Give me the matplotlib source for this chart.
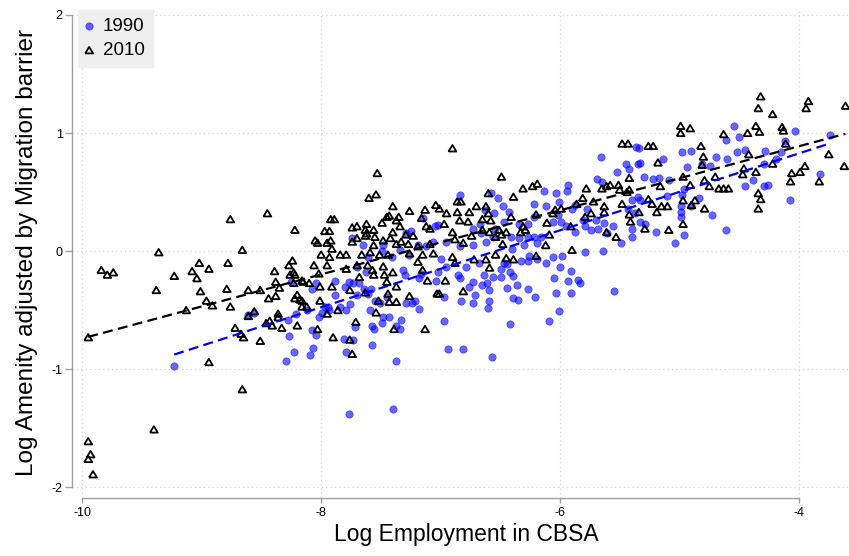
import numpy as np
import matplotlib
matplotlib.use("Agg")
import matplotlib.pyplot as plt

plt.rcParams['font.family'] = ['Liberation Sans', 'DejaVu Sans']

# ---- data ----
pts_2010 = [
    (-9.95,-0.73),(-9.84,-0.16),(-9.79,-0.20),(-9.74,-0.18),(-9.95,-1.61),(-9.93,-1.72),(-9.95,-1.76),(-9.91,-1.89),
    (-9.38,-0.33),(-9.36,-0.01),(-9.40,-1.51),(-9.23,-0.21),(-9.13,-0.50),(-9.08,-0.17),(-9.04,-0.23),(-9.02,-0.10),
    (-8.94,-0.15),(-9.01,-0.34),(-8.96,-0.42),(-8.91,-0.46),(-8.94,-0.94),(-8.79,-0.32),(-8.78,-0.10),(-8.76,-0.47),
    (-8.66,0.01),(-8.66,-1.17),(-8.72,-0.65),(-8.67,-0.70),(-8.65,-0.73),(-8.61,-0.33),(-8.61,-0.55),(-8.56,-0.51),
    (-8.51,-0.33),(-8.51,-0.76),(-8.44,-0.40),(-8.39,-0.17),(-8.38,-0.26),(-8.38,-0.38),(-8.35,-0.31),(-8.43,-0.59),
    (-8.46,-0.61),(-8.41,-0.63),(-8.36,-0.53),(-8.36,-0.56),(-8.33,-0.65),(-8.20,-0.63),(-8.22,0.18),(-8.27,-0.12),
    (-8.24,-0.08),(-8.23,-0.18),(-8.26,-0.20),(-8.22,-0.20),(-8.20,-0.37),(-8.22,-0.40),(-8.16,-0.25),(-8.16,-0.47),
    (-8.16,-0.42),
    (-8.76,0.27),(-8.45,0.32),(-7.53,0.66),(-7.60,0.45),(-7.54,0.48),(-7.40,0.38),(-7.26,0.34),(-7.13,0.35),(-7.04,0.39),
    (-7.92,0.27),(-7.89,0.27),(-7.97,0.17),(-7.93,0.17),(-8.05,0.09),(-8.03,0.07),(-7.95,0.07),(-7.92,0.09),(-7.91,0.02),
    (-8.00,-0.03),(-7.93,-0.05),(-7.84,-0.03),(-7.79,-0.03),(-7.74,0.20),(-7.70,0.21),(-7.62,0.23),(-7.63,0.18),
    (-7.56,0.18),(-7.49,0.24),(-7.45,0.29),(-7.43,0.30),(-7.37,0.26),(-7.35,0.29),(-7.34,0.21),(-7.40,0.16),(-7.29,0.14),
    (-7.23,0.13),(-7.16,0.28),(-7.12,0.21),(-7.09,0.19),(-7.62,0.15),(-7.74,0.08),(-7.70,0.11),(-7.55,0.12),(-7.48,0.09),
    (-7.42,0.11),(-7.63,0.13),(-7.56,0.05),(-7.66,-0.03),(-7.59,-0.01),(-7.51,-0.03),(-7.44,-0.03),(-7.37,0.06),
    (-7.33,0.08),(-7.27,0.06),(-7.26,-0.02),(-7.19,0.04),(-7.09,0.06),(-7.15,-0.03),(-7.06,-0.02),
    (-8.23,-0.27),(-8.18,-0.41),(-8.15,-0.26),(-8.10,-0.27),(-8.12,-0.47),(-8.06,-0.12),(-8.02,-0.19),(-8.01,-0.30),
    (-7.91,-0.30),(-8.01,-0.42),(-8.03,-0.66),(-7.95,-0.53),(-7.86,-0.50),(-7.90,-0.73),(-7.95,-0.12),(-7.79,-0.15),
    (-7.70,-0.12),(-7.68,-0.22),(-7.76,-0.33),(-7.71,-0.60),(-7.76,-0.75),(-7.74,-0.87),(-7.63,-0.35),(-7.61,-0.12),
    (-7.54,-0.52),(-7.52,-0.42),(-7.48,-0.13),(-7.47,-0.20),(-7.45,-0.26),(-7.44,-0.36),(-7.40,-0.18),(-7.37,-0.30),
    (-7.37,-0.43),(-7.43,-0.43),(-7.39,-0.66),(-7.26,-0.38),(-7.19,-0.09),(-7.15,-0.16),(-7.11,-0.25),(-7.13,-0.66),
    (-7.03,-0.36),(-7.56,-0.20),(-7.57,-0.16),
    (-6.90,0.87),(-6.49,0.63),(-6.31,0.53),(-6.23,0.55),(-6.19,0.57),(-6.39,0.46),(-6.60,0.49),(-6.86,0.42),(-6.83,0.42),
    (-6.70,0.38),(-7.01,0.36),(-6.95,0.32),(-6.86,0.33),(-6.76,0.33),(-6.62,0.38),(-6.60,0.32),(-6.65,0.27),(-6.58,0.26),
    (-6.41,0.29),(-6.84,0.26),(-6.77,0.25),(-6.97,0.23),(-6.90,0.16),(-6.74,0.13),(-6.65,0.18),(-6.59,0.16),(-6.51,0.18),
    (-6.49,0.14),(-6.45,0.16),(-6.54,0.12),(-6.88,0.10),(-6.81,0.07),(-6.31,0.21),(-6.29,0.18),(-6.33,0.16),(-6.48,0.06),
    (-6.12,0.05),(-6.20,0.31),(-6.11,0.24),(-6.09,0.14),(-6.06,0.32),(-6.04,0.35),(-5.99,0.36),(-5.91,0.21),(-5.86,0.40),
    (-5.81,0.45),(-5.78,0.53),(-5.79,0.29),(-5.74,0.32),(-5.72,0.42),(-5.65,0.53),(-5.61,0.55),(-5.58,0.56),(-5.51,0.56),
    (-5.50,0.52),(-5.44,0.50),(-5.42,0.52),(-5.42,0.62),(-5.48,0.91),(-5.43,0.91),(-5.63,0.38),(-5.63,0.33),(-5.61,0.16),
    (-5.53,0.12),(-5.48,0.40),(-5.42,0.31),(-5.41,0.25),(-5.90,0.01),
    (-6.96,-0.25),(-6.81,-0.34),(-7.01,-0.36),(-6.90,-0.05),(-6.88,-0.10),(-6.72,-0.07),(-6.62,-0.07),(-6.59,-0.14),
    (-6.54,-0.03),(-6.45,-0.06),(-6.39,-0.07),(-6.20,-0.04),
    (-4.99,1.06),(-4.99,1.00),(-4.91,1.04),(-5.26,0.89),(-5.22,0.89),(-5.18,0.75),(-4.82,0.89),(-4.80,0.80),(-4.81,0.73),
    (-4.63,0.99),(-4.43,1.00),(-4.36,1.06),(-4.33,1.01),(-4.32,1.31),(-4.34,1.21),(-4.22,1.16),(-4.14,1.05),(-4.13,1.02),
    (-3.92,1.27),(-3.94,1.21),(-3.61,1.23),(-4.11,0.91),(-3.75,0.82),(-3.62,0.72),(-4.97,0.63),(-5.16,0.55),(-4.91,0.56),
    (-4.79,0.60),(-4.75,0.55),(-4.70,0.63),(-4.67,0.53),(-4.59,0.53),(-4.46,0.70),(-4.47,0.65),(-4.36,0.67),(-4.42,0.82),
    (-4.22,0.74),(-4.06,0.66),(-3.99,0.67),(-3.95,0.72),(-4.07,0.59),(-3.83,0.59),(-4.34,0.49),(-4.32,0.44),(-4.34,0.36),
    (-5.26,0.44),(-5.23,0.40),(-5.15,0.38),(-5.10,0.38),(-5.19,0.33),(-5.34,0.33),(-4.97,0.43),(-4.90,0.39),(-4.79,0.36),
    (-4.97,0.23),(-5.29,0.19),(-5.09,0.18),(-4.63,0.53),(-4.87,0.43),
]

pts_1990 = [
    (-9.23,-0.97),(-8.61,-0.54),(-8.56,-0.52),(-8.28,-0.58),(-8.27,-0.72),(-8.23,-0.85),(-8.29,-0.93),(-8.21,-0.53),
    (-8.25,-0.26),(-8.12,-0.50),
    (-7.74,0.11),(-7.65,0.05),(-7.48,0.05),(-7.49,0.00),(-7.29,0.15),(-7.25,0.17),(-7.15,0.28),(-7.19,0.05),(-7.12,0.04),
    (-7.05,0.21),(-7.02,0.22),(-7.06,0.08),(-7.34,0.01),(-7.26,-0.03),(-7.41,-0.05),(-7.61,-0.05),
    (-8.08,-0.67),(-8.04,-0.71),(-8.07,-0.82),(-8.09,-0.88),(-8.02,-0.56),(-7.99,-0.52),(-8.04,-0.27),(-8.08,-0.32),
    (-7.97,-0.47),(-7.94,-0.47),(-7.88,-0.37),(-7.88,-0.25),(-7.93,-0.50),(-7.84,-0.47),(-7.79,-0.50),(-7.76,-0.45),
    (-7.80,-0.30),(-7.77,-0.26),(-7.73,-0.27),(-7.70,-0.37),(-7.81,-0.74),(-7.73,-0.75),(-7.79,-0.85),(-7.77,-1.38),
    (-7.72,-0.64),(-7.68,-0.27),(-7.64,-0.32),(-7.61,-0.36),(-7.58,-0.32),(-7.59,-0.50),(-7.57,-0.63),(-7.56,-0.66),
    (-7.57,-0.79),(-7.48,-0.56),(-7.49,-0.61),(-7.43,-0.56),(-7.37,-0.63),(-7.33,-0.58),(-7.34,-0.66),(-7.37,-0.93),
    (-7.40,-1.34),(-7.55,-0.42),(-7.51,-0.44),(-7.45,-0.39),(-7.31,-0.16),(-7.30,-0.20),(-7.29,-0.44),(-7.24,-0.44),
    (-7.21,-0.42),(-7.18,-0.49),(-7.18,-0.23),(-7.16,-0.19),(-7.04,-0.25),(-7.02,-0.18),(-7.62,-0.18),(-7.70,-0.13),
    (-5.66,0.80),(-5.36,0.88),(-5.45,0.74),(-5.42,0.70),(-5.52,0.67),(-5.69,0.61),(-5.65,0.59),(-6.84,0.48),(-6.58,0.49),
    (-6.52,0.45),(-6.48,0.38),(-6.43,0.33),(-6.63,0.35),(-6.55,0.32),(-6.22,0.40),(-6.13,0.51),(-6.03,0.49),(-6.12,0.38),
    (-6.01,0.42),(-5.93,0.56),(-5.94,0.51),(-5.90,0.36),(-5.77,0.36),(-5.95,0.21),(-5.87,0.16),(-6.02,0.31),(-5.99,0.25),
    (-6.22,0.29),(-6.27,0.23),(-6.34,0.23),(-6.47,0.25),(-6.54,0.19),(-6.67,0.23),(-6.73,0.19),(-6.66,0.15),(-6.56,0.12),
    (-6.41,0.12),(-6.34,0.11),(-6.27,0.12),(-6.22,0.12),(-6.16,0.12),(-6.19,0.07),(-6.30,0.05),(-6.40,0.02),(-6.62,0.08),
    (-6.73,0.05),(-6.95,0.08),(-6.84,0.04),(-5.81,0.26),(-5.79,0.21),(-5.74,0.18),(-5.68,0.19),(-5.56,0.21),(-5.49,0.07),
    (-5.40,0.12),(-5.37,0.32),(-5.40,0.43),(-5.35,0.46),(-5.35,0.74),(-5.43,0.36),(-5.70,0.26),(-5.63,0.24),(-5.61,0.15),
    (-5.40,0.19),(-6.06,0.25),(-5.87,0.39),
    (-7.00,-0.07),(-6.95,-0.13),(-6.97,-0.39),(-6.97,-0.59),(-6.94,-0.83),(-6.81,-0.83),(-6.83,-0.42),(-6.84,-0.23),
    (-6.79,-0.13),(-6.76,-0.30),(-6.73,-0.26),(-6.71,-0.37),(-6.73,-0.44),(-6.65,-0.29),(-6.64,-0.20),(-6.61,-0.27),
    (-6.59,-0.33),(-6.59,-0.42),(-6.60,-0.48),(-6.56,-0.22),(-6.57,-0.90),(-6.49,-0.22),(-6.49,-0.15),(-6.42,-0.18),
    (-6.39,-0.21),(-6.44,-0.31),(-6.36,-0.29),(-6.39,-0.40),(-6.35,-0.41),(-6.42,-0.62),(-6.27,-0.32),(-6.21,-0.39),
    (-6.27,-0.08),(-6.26,-0.04),(-6.19,-0.07),(-6.12,-0.10),(-6.06,-0.05),(-6.05,-0.23),(-6.03,-0.35),(-6.09,-0.59),
    (-6.01,-0.51),(-6.00,-0.13),(-5.98,-0.04),(-5.93,-0.25),(-5.91,-0.17),(-5.91,-0.35),(-5.85,-0.24),(-5.83,-0.27),
    (-5.79,-0.01),(-5.64,0.00),(-5.55,-0.34),(-6.44,-0.11),(-6.47,-0.10),(-6.33,-0.08),(-6.68,-0.10),(-6.85,-0.20),
    (-4.54,1.06),(-4.61,0.94),(-4.50,0.97),(-4.03,1.02),(-3.74,0.98),(-4.12,0.93),(-4.98,0.84),(-4.90,0.85),(-4.52,0.84),
    (-4.45,0.86),(-4.28,0.85),(-4.69,0.80),(-4.60,0.78),(-5.14,0.78),(-5.33,0.75),(-4.94,0.71),(-4.81,0.74),(-4.74,0.72),
    (-4.29,0.74),(-4.19,0.78),(-4.15,0.84),(-3.82,0.65),(-5.30,0.63),(-5.22,0.61),(-5.17,0.62),(-5.09,0.60),(-4.38,0.60),
    (-4.45,0.55),(-4.29,0.55),(-4.26,0.56),(-4.96,0.53),(-5.10,0.47),(-4.98,0.48),(-4.84,0.45),(-4.90,0.38),(-4.99,0.38),
    (-4.99,0.33),(-4.99,0.29),(-4.73,0.31),(-5.33,0.43),(-5.33,0.25),(-5.29,0.23),(-5.20,0.16),(-4.96,0.14),(-5.04,0.07),
    (-4.61,0.18),(-4.07,0.43),(-5.34,0.87),
]

x_2010 = np.array([p[0] for p in pts_2010]); y_2010 = np.array([p[1] for p in pts_2010])
x_1990 = np.array([p[0] for p in pts_1990]); y_1990 = np.array([p[1] for p in pts_1990])

# linear fit lines: (slope, intercept)
fit_2010 = (0.2712, 1.973)
fit_1990 = (0.3256, 2.130)

x_ticks = [-10, -8, -6, -4]
y_ticks = [-2, -1, 0, 1, 2]
x_label = "Log Employment in CBSA"
y_label = "Log Amenity adjusted by Migration barrier"
series_labels = ['1990', '2010']

# ---- figure ----
fig = plt.figure(figsize=(8.49, 5.56), dpi=100)
ax = fig.add_axes([71.7 / 849, (556 - 497.7) / 556, (849 - 71.7) / 849, (497.7 - 8) / 556])
ax.set_xlim(-10.088, -3.58)
ax.set_ylim(-2.087, 2.059)

grid_kw = dict(color='#d4d4d4', lw=0.9, ls=(0, (1, 2.5)), zorder=0)
for t in x_ticks:
    ax.axvline(t, **grid_kw)
for t in y_ticks:
    ax.axhline(t, **grid_kw)

tri = [(-1, -0.78), (1, -0.78), (0, 0.86), (-1, -0.78)]

ax.scatter(x_1990, y_1990, s=28, marker='o', facecolor=(0, 0, 1, 0.6),
           edgecolor=(0, 0, 1, 0.6), linewidths=0.5, zorder=2, label=series_labels[0])
ax.scatter(x_2010, y_2010, s=32, marker=tri, facecolor='none',
           edgecolor='black', linewidths=1.3, zorder=3, label=series_labels[1])

for xs, (b, a), col in [(x_2010, fit_2010, 'black'), (x_1990, fit_1990, 'blue')]:
    xx = np.array([xs.min(), xs.max()])
    ax.plot(xx, a + b * xx, color=col, lw=1.6, ls=(0, (4.5, 2.4)), zorder=4)

for s in ['top', 'right']:
    ax.spines[s].set_visible(False)
ax.spines['left'].set_bounds(-2, 2)
ax.spines['bottom'].set_bounds(-10, -4)
for s in ['left', 'bottom']:
    ax.spines[s].set_color('#a0a0a0')
    ax.spines[s].set_linewidth(1.0)
ax.set_xticks(x_ticks)
ax.set_yticks(y_ticks)
ax.set_xticklabels([str(t) for t in x_ticks])
ax.set_yticklabels([str(t) for t in y_ticks])
ax.tick_params(axis='both', colors='#a0a0a0', labelcolor='black', width=1.0, labelsize=9)
ax.tick_params(axis='y', length=5, pad=1.5)
ax.tick_params(axis='x', length=3.5, pad=3.5)

ax.set_xlabel(x_label, fontsize=16.5, labelpad=7)
ax.xaxis.set_label_coords(0.5073, -0.052, transform=ax.transAxes)
ax.xaxis.label.set_va('top')
ax.set_ylabel(y_label, fontsize=17.5, labelpad=10)

leg = ax.legend(loc='upper left', bbox_to_anchor=(6.3 / 777.3, 1.0 - 2 / 489.7), borderaxespad=0,
                fontsize=13.5, frameon=True, fancybox=False, facecolor='#efefef',
                edgecolor='#efefef', framealpha=1, handletextpad=0.55, borderpad=0.42,
                labelspacing=0.38, handlelength=0.35)

fig.savefig('out.png', dpi=100)
